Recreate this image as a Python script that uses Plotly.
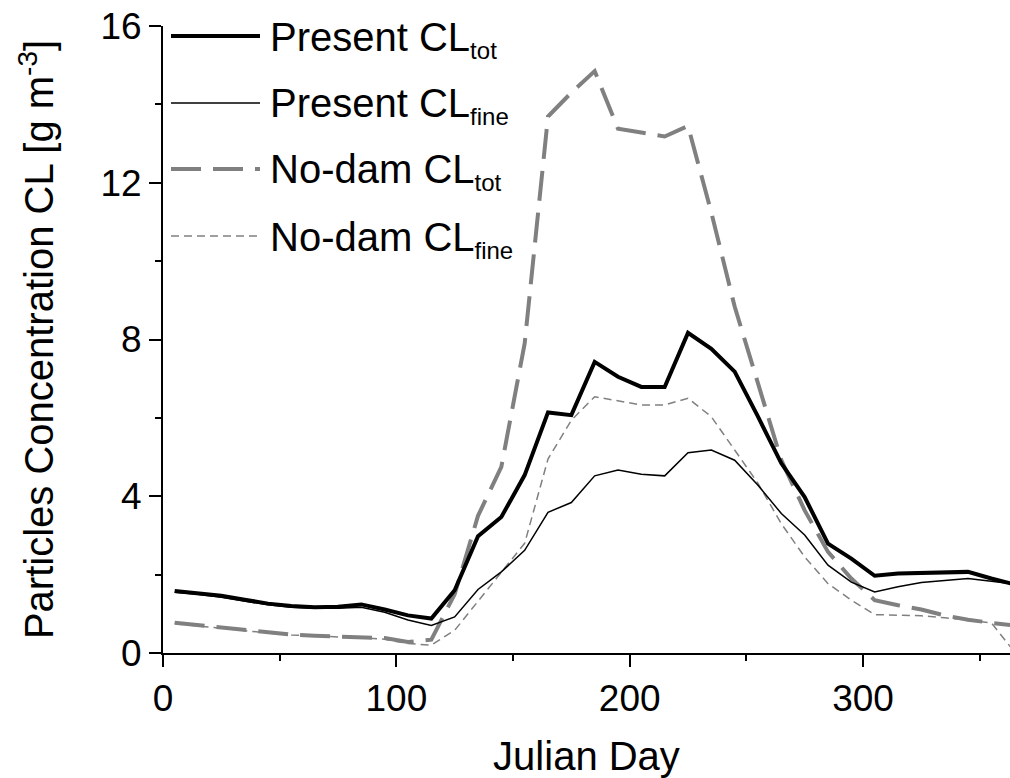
import plotly.graph_objects as go

days = [5, 15, 25, 35, 45, 55, 65, 75, 85, 95, 105, 115, 125, 135, 145, 155, 165, 175, 185,
        195, 205, 215, 225, 235, 245, 255, 265, 275, 285, 295, 305, 315, 325, 335, 345, 355, 365]

present_tot = [1.58, 1.53, 1.46, 1.36, 1.26, 1.20, 1.17, 1.18, 1.24, 1.11, 0.96, 0.88, 1.60,
               2.98, 3.47, 4.54, 6.14, 6.07, 7.43, 7.05, 6.79, 6.79, 8.17, 7.76, 7.18, 6.03,
               4.84, 3.98, 2.79, 2.41, 1.97, 2.03, 2.04, 2.05, 2.07, 1.90, 1.75]

present_fine = [1.55, 1.50, 1.42, 1.32, 1.23, 1.17, 1.14, 1.14, 1.17, 1.04, 0.84, 0.70, 0.92,
                1.62, 2.07, 2.62, 3.59, 3.84, 4.52, 4.67, 4.56, 4.52, 5.11, 5.18, 4.92, 4.28,
                3.56, 3.01, 2.24, 1.81, 1.56, 1.69, 1.80, 1.85, 1.90, 1.83, 1.76]

nodam_tot = [0.77, 0.71, 0.63, 0.58, 0.52, 0.47, 0.44, 0.42, 0.42, 0.38, 0.28, 0.34, 1.50,
             3.50, 4.75, 7.90, 13.69, 14.30, 14.85, 13.38, 13.28, 13.18, 13.45, 11.24, 8.84,
             6.84, 4.92, 3.64, 2.58, 1.90, 1.35, 1.22, 1.11, 0.96, 0.85, 0.77, 0.70]

nodam_fine = [0.75, 0.69, 0.62, 0.56, 0.51, 0.46, 0.43, 0.41, 0.39, 0.35, 0.24, 0.20, 0.58,
              1.33, 2.07, 2.80, 4.95, 5.94, 6.54, 6.44, 6.33, 6.33, 6.50, 6.03, 5.18, 4.33,
              3.30, 2.45, 1.77, 1.35, 0.98, 0.96, 0.95, 0.90, 0.83, 0.77, 0.02]

series_labels = ["Present CL", "Present CL", "No-dam CL", "No-dam CL"]
series_subs = ["tot", "fine", "tot", "fine"]

x_ticks = [0, 100, 200, 300]
y_ticks = [0, 4, 8, 12, 16]

GRAY = "#808080"
styles = [
    dict(color="black", width=4, dash="solid"),
    dict(color="black", width=1.5, dash="solid"),
    dict(color=GRAY, width=4, dash="30px,12px"),
    dict(color=GRAY, width=1.5, dash="8px,5px"),
]
all_series = [present_tot, present_fine, nodam_tot, nodam_fine]

W, H = 1010, 778
ML, MR, MT, MB = 163, 0, 26, 125
PW, PH = W - ML - MR, H - MT - MB

FONT = "Liberation Sans, Arial, sans-serif"

fig = go.Figure()
order = [3, 2, 1, 0]
for i in order:
    fig.add_trace(go.Scatter(x=days, y=all_series[i], mode="lines",
                             name=series_labels[i] + series_subs[i],
                             line=styles[i], showlegend=False))


def px_x(p):
    return (p - ML) / PW


def px_y(p):
    return (H - MB - p) / PH


leg_y = [36, 103, 169, 236]
for i in range(4):
    fig.add_shape(type="line", xref="paper", yref="paper",
                  x0=px_x(171), x1=px_x(260), y0=px_y(leg_y[i]), y1=px_y(leg_y[i]),
                  line=styles[i])
    txt = (series_labels[i] + "<sub><span style='font-size:24px'>" + series_subs[i]
           + "</span></sub>")
    fig.add_annotation(xref="paper", yref="paper", x=px_x(268), y=px_y(leg_y[i] + 3),
                       text=txt, showarrow=False, xanchor="left", yanchor="middle",
                       font=dict(family=FONT, size=40, color="black"))

fig.update_layout(
    width=W, height=H,
    margin=dict(l=ML, r=MR, t=MT, b=MB),
    paper_bgcolor="white", plot_bgcolor="white",
    font=dict(family=FONT, size=37, color="black"),
    showlegend=False,
)
fig.update_xaxes(range=[0, 363], tickvals=x_ticks, ticks="outside", ticklen=12, tickwidth=2,
                 tickcolor="black", showline=True, linewidth=2, linecolor="black",
                 showgrid=False, zeroline=False, tickfont=dict(size=37),
                 minor=dict(dtick=50, tick0=0, ticks="outside", ticklen=6, tickwidth=2,
                            tickcolor="black", showgrid=False),
                 title=dict(text="Julian Day", standoff=24, font=dict(size=40)))
fig.update_yaxes(range=[0, 16], tickvals=y_ticks, ticks="outside", ticklen=12, tickwidth=2,
                 tickcolor="black", showline=True, linewidth=2, linecolor="black",
                 showgrid=False, zeroline=False, tickfont=dict(size=37),
                 minor=dict(dtick=2, tick0=0, ticks="outside", ticklen=6, tickwidth=2,
                            tickcolor="black", showgrid=False),
                 title=dict(text="Particles Concentration CL [g m<sup>-3</sup>]", standoff=34,
                            font=dict(size=40)))

fig.write_html("out.html")
